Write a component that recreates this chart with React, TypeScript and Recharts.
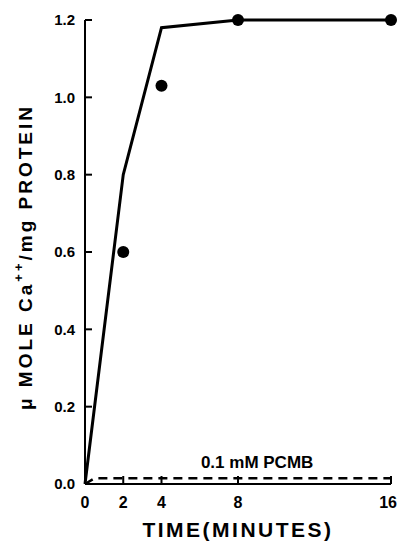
import React from 'react';
import {
  ComposedChart,
  Line,
  Scatter,
  XAxis,
  YAxis,
  ReferenceDot,
} from 'recharts';

// ---- data ----
const xTicks = [0, 2, 4, 8, 16];
const yTicks = [0, 0.2, 0.4, 0.6, 0.8, 1.0, 1.2];

const curveTime = [0, 2, 4, 8, 16];
const curveValue = [0, 0.8, 1.18, 1.2, 1.2];

const pointTime = [2, 4, 8, 16];
const pointValue = [0.6, 1.03, 1.2, 1.2];

const pcmbTime = [0, 0.5, 16];
const pcmbValue = [0, 0.015, 0.015];

const curveData = curveTime.map((t, i) => ({ t, v: curveValue[i] }));
const pointData = pointTime.map((t, i) => ({ t, v: pointValue[i] }));
const pcmbData = pcmbTime.map((t, i) => ({ t, v: pcmbValue[i] }));

const FONT = '"Liberation Sans", Arial, Helvetica, sans-serif';
const X_TM = 13;
const Y_TM = 10;

const XTick = (props: any) => {
  const { x, y, payload, index, visibleTicksCount } = props;
  const axisY = y - X_TM;
  const isLast = index === visibleTicksCount - 1;
  return (
    <g>
      <line x1={x} x2={x} y1={axisY} y2={axisY - 8} stroke="#000" strokeWidth={2} />
      <text
        x={isLast ? x + 6 : x}
        y={y}
        dy="0.71em"
        textAnchor={isLast ? 'end' : 'middle'}
        fontFamily={FONT}
        fontWeight="bold"
        fontSize={16}
        fill="#000"
      >
        {payload.value}
      </text>
    </g>
  );
};

const YTick = (props: any) => {
  const { x, y, payload } = props;
  const axisX = x + Y_TM;
  return (
    <g>
      <line x1={axisX} x2={axisX + 7} y1={y} y2={y} stroke="#000" strokeWidth={2} />
      <text
        x={x}
        y={y}
        dy="0.36em"
        textAnchor="end"
        fontFamily={FONT}
        fontWeight="bold"
        fontSize={15}
        fill="#000"
      >
        {Number(payload.value).toFixed(1)}
      </text>
    </g>
  );
};

const XTitle = (props: any) => {
  const vb = props.viewBox || { x: 85, y: 484, width: 306, height: 63 };
  return (
    <text
      x={vb.x + vb.width / 2}
      y={vb.y + vb.height - 10}
      textAnchor="middle"
      fontFamily={FONT}
      fontWeight="bold"
      fontSize={21}
      letterSpacing={2.5}
      fill="#000"
    >
      TIME(MINUTES)
    </text>
  );
};

const YTitle = (props: any) => {
  const vb = props.viewBox || { x: 0, y: 20, width: 85, height: 464 };
  const cx = vb.x + 25;
  const cy = vb.y + vb.height / 2 + 5;
  return (
    <text
      x={cx}
      y={cy}
      transform={`rotate(-90, ${cx}, ${cy})`}
      textAnchor="middle"
      dominantBaseline="central"
      fontFamily={FONT}
      fontWeight="bold"
      fontSize={19}
      letterSpacing={3}
      fill="#000"
    >
      <tspan>μ MOLE Ca</tspan>
      <tspan dy={-7} fontSize={13}>++</tspan>
      <tspan dy={7}>/mg PROTEIN</tspan>
    </text>
  );
};

export default function App() {
  return (
    <div style={{ position: 'absolute', left: 0, top: 0, background: '#fff' }}>
      <ComposedChart
        width={397}
        height={547}
        margin={{ top: 20, right: 6, bottom: 0, left: 0 }}
      >
        <XAxis
          type="number"
          dataKey="t"
          domain={[0, 16]}
          ticks={xTicks}
          interval={0}
          height={63}
          tickSize={0}
          tickMargin={X_TM}
          tickLine={false}
          axisLine={{ stroke: '#000', strokeWidth: 2 }}
          tick={<XTick />}
          label={{ content: (p: any) => <XTitle {...p} /> }}
        />
        <YAxis
          type="number"
          domain={[0, 1.2]}
          ticks={yTicks}
          interval={0}
          width={85}
          tickSize={0}
          tickMargin={Y_TM}
          tickLine={false}
          axisLine={{ stroke: '#000', strokeWidth: 2 }}
          tick={<YTick />}
          label={{ content: (p: any) => <YTitle {...p} /> }}
        />
        <Line
          data={curveData}
          dataKey="v"
          type="linear"
          stroke="#000"
          strokeWidth={3}
          dot={false}
          activeDot={false}
          isAnimationActive={false}
        />
        <Line
          data={pcmbData}
          dataKey="v"
          type="linear"
          stroke="#000"
          strokeWidth={2.5}
          strokeDasharray="9 6"
          dot={false}
          activeDot={false}
          isAnimationActive={false}
        />
        <Scatter
          data={pointData}
          dataKey="v"
          fill="#000"
          shape={(p: any) => <circle cx={p.cx} cy={p.cy} r={6} fill="#000" />}
          isAnimationActive={false}
        />
        <ReferenceDot
          x={9}
          y={0.057}
          r={0}
          fill="none"
          stroke="none"
          label={{
            value: '0.1 mM PCMB',
            position: 'center',
            fontFamily: FONT,
            fontWeight: 'bold',
            fontSize: 17,
            fill: '#000',
          }}
        />
      </ComposedChart>
    </div>
  );
}
